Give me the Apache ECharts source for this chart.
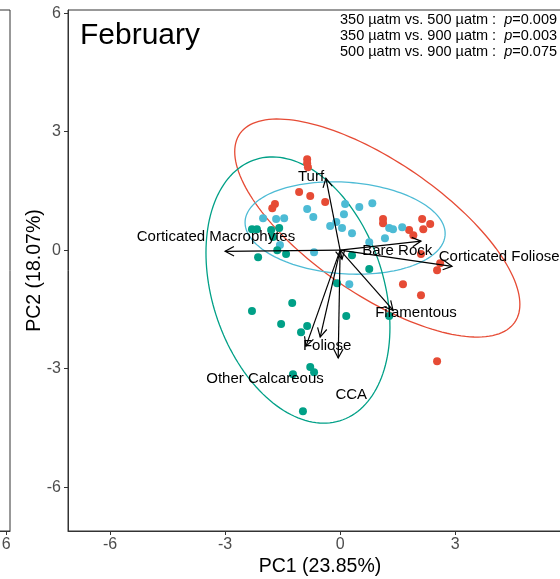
<!DOCTYPE html>
<html><head><meta charset="utf-8">
<script src="https://cdn.jsdelivr.net/npm/echarts@6/dist/echarts.min.js"></script>
<style>html,body{margin:0;padding:0;background:#fff}#c{width:560px;height:579px}</style>
</head><body><div id="c"></div>
<script>
// ---- data ----
const groups = ['350 µatm', '500 µatm', '900 µatm'];
const groupColors = ['#E64B35', '#4DBBD5', '#00A087'];

const pc1_350 = [-0.86,-0.86,-0.84,-1.07,-0.78,-0.39,-1.70,-1.77,1.12,1.12,1.80,1.91,2.14,2.35,2.17,2.11,2.61,2.53,1.64,2.11,2.53];
const pc2_350 = [2.30,2.20,2.10,1.47,1.37,1.22,1.17,1.06,0.79,0.68,0.51,0.38,0.79,0.66,0.53,-0.10,-0.33,-0.51,-0.86,-1.14,-2.81];

const pc1_500 = [-2.01,-1.67,-1.46,-0.86,-0.70,0.13,0.50,0.84,0.10,-0.10,-0.26,0.05,0.31,0.76,1.17,1.28,1.38,1.62,-1.57,-0.68,0.24];
const pc2_500 = [0.81,0.79,0.81,1.04,0.84,1.17,1.09,1.19,0.91,0.71,0.61,0.56,0.43,0.20,0.30,0.56,0.53,0.58,0.13,-0.05,-0.86];

const pc1_900 = [-2.30,-2.17,-1.80,-1.59,-1.75,-2.14,-1.64,-1.41,0.31,0.76,-0.08,-1.25,-2.30,0.16,-1.54,-0.86,-1.02,1.28,-0.78,-0.68,-1.23,-0.97];
const pc2_900 = [0.53,0.53,0.51,0.56,0.33,-0.18,0.00,-0.10,-0.13,-0.48,-0.84,-1.34,-1.54,-1.67,-1.87,-1.92,-2.08,-1.67,-2.96,-3.09,-3.14,-4.08];

// confidence ellipses: centre, half-extent along PC1 / PC2, correlation
const ellipseCx = [0.97, 0.13, -1.10];
const ellipseCy = [0.56, 0.56, -1.01];
const ellipseWx = [3.72, 2.61, 2.40];
const ellipseWy = [2.76, 1.17, 3.37];
const ellipseR  = [-0.70, -0.12, -0.28];

// loadings (arrow tips) and their label positions
const loadingNames = ['Turf','Corticated Macrophytes','Bare Rock','Corticated Foliose','Filamentous','Foliose','Other Calcareous','CCA',''];
const loadingPC1 = [-0.37,-3.00,2.11,2.92,1.38,-0.52,-0.89,-0.05,0.05];
const loadingPC2 = [1.82,-0.03,0.23,-0.41,-1.52,-2.20,-2.43,-2.73,-0.23];
const labelPC1 = [-0.76,-3.24,1.49,4.15,1.98,-0.34,-1.96,0.29,null];
const labelPC2 = [1.85,0.33,-0.03,-0.18,-1.60,-2.43,-3.27,-3.67,null];

const xTicks = [-6, -3, 0, 3, 6];
const yTicks = [-6, -3, 0, 3, 6];
const panelTitle = 'February';
const pLines = [['350 µatm vs. 500 µatm', '0.009'], ['350 µatm vs. 900 µatm', '0.003'], ['500 µatm vs. 900 µatm', '0.075']];

// ---- chart ----
const FONT = '"Liberation Sans", Arial, Helvetica, sans-serif';
const chart = echarts.init(document.getElementById('c'), null, {renderer: 'canvas'});

const pcX = [pc1_350, pc1_500, pc1_900];
const pcY = [pc2_350, pc2_500, pc2_900];

const series = [];
groups.forEach((g, i) => {
  series.push({
    type: 'custom', name: g + ' ellipse', xAxisIndex: 0, yAxisIndex: 0, silent: true, z: 1,
    data: [[ellipseCx[i], ellipseCy[i]]], encode: {x: 0, y: 1},
    renderItem: (params, api) => {
      const pts = [];
      const s = Math.sqrt(1 - ellipseR[i] * ellipseR[i]);
      for (let k = 0; k <= 160; k++) {
        const t = 2 * Math.PI * k / 160;
        const x = ellipseCx[i] + ellipseWx[i] * Math.cos(t);
        const y = ellipseCy[i] + ellipseWy[i] * (ellipseR[i] * Math.cos(t) + s * Math.sin(t));
        pts.push(api.coord([x, y]));
      }
      return {type: 'polyline', shape: {points: pts}, style: {stroke: groupColors[i], fill: null, lineWidth: 1.3}};
    }
  });
});
groups.forEach((g, i) => {
  series.push({
    type: 'scatter', name: g, xAxisIndex: 0, yAxisIndex: 0, z: 2, silent: true,
    symbol: 'circle', symbolSize: 8,
    itemStyle: {color: groupColors[i], opacity: 1},
    data: pcX[i].map((v, j) => [v, pcY[i][j]])
  });
});
series.push({
  type: 'custom', name: 'loadings', xAxisIndex: 0, yAxisIndex: 0, silent: true, z: 3,
  data: loadingPC1.map((v, j) => [v, loadingPC2[j]]), encode: {x: 0, y: 1},
  renderItem: (params, api) => {
    const o = api.coord([0, 0]);
    const p = api.coord([api.value(0), api.value(1)]);
    const ang = Math.atan2(p[1] - o[1], p[0] - o[0]);
    const L = 10, A = 28 * Math.PI / 180;
    const h1 = [p[0] - L * Math.cos(ang - A), p[1] - L * Math.sin(ang - A)];
    const h2 = [p[0] - L * Math.cos(ang + A), p[1] - L * Math.sin(ang + A)];
    const st = {stroke: '#000', fill: null, lineWidth: 1.2};
    return {type: 'group', children: [
      {type: 'line', shape: {x1: o[0], y1: o[1], x2: p[0], y2: p[1]}, style: st},
      {type: 'polyline', shape: {points: [h1, p, h2]}, style: st}
    ]};
  }
});
series.push({
  type: 'custom', name: 'loading labels', xAxisIndex: 0, yAxisIndex: 0, silent: true, z: 4,
  data: loadingNames.map((n, j) => [labelPC1[j], labelPC2[j], j]).filter(d => d[0] !== null),
  encode: {x: 0, y: 1},
  renderItem: (params, api) => {
    const p = api.coord([api.value(0), api.value(1)]);
    return {type: 'text', x: p[0], y: p[1], style: {
      text: loadingNames[api.value(2)], fill: '#000', font: '15px ' + FONT,
      align: 'center', verticalAlign: 'middle'}};
  }
});
// empty series to host the left (cut-off) panel
series.push({type: 'scatter', xAxisIndex: 1, yAxisIndex: 1, data: [], silent: true});

const axisCommon = {
  type: 'value', splitLine: {show: false}, nameMoveOverlap: false,
  axisLine: {show: true, onZero: false, lineStyle: {color: '#333', width: 1}},
  nameTextStyle: {fontSize: 19.5, color: '#000', fontFamily: FONT}
};

let pText = pLines.map(l => '{n|' + l[0] + ' :  }{i|p}{n|=' + l[1] + '}').join('\n');

chart.setOption({
  animation: false,
  textStyle: {fontFamily: FONT},
  title: [
    {text: panelTitle, left: 80, top: 21, padding: 0, textStyle: {fontSize: 30, fontWeight: 'normal', color: '#000', fontFamily: FONT}},
    {text: pText, left: 340, top: 12, padding: 0, textStyle: {fontWeight: 'normal', rich: {
      n: {fontSize: 14.5, lineHeight: 16, color: '#000', fontWeight: 'normal', fontFamily: FONT},
      i: {fontSize: 14.5, lineHeight: 16, color: '#000', fontWeight: 'normal', fontStyle: 'italic', fontFamily: FONT}
    }}}
  ],
  grid: [
    {left: 68, top: 10, width: 504, height: 521, show: true, borderColor: '#333', borderWidth: 1,
     backgroundColor: 'transparent', containLabel: false, outerBoundsMode: 'none'},
    {left: -494, top: 10, width: 504, height: 521, show: true, borderColor: '#333', borderWidth: 1,
     backgroundColor: 'transparent', containLabel: false, outerBoundsMode: 'none'}
  ],
  xAxis: [
    Object.assign({}, axisCommon, {gridIndex: 0, min: -7.1, max: 6.05,
      axisTick: {show: true, length: 4, customValues: xTicks, lineStyle: {color: '#333'}},
      axisLabel: {customValues: xTicks, color: '#4D4D4D', fontSize: 16, margin: 6},
      name: 'PC1 (23.85%)', nameLocation: 'middle', nameGap: 26}),
    Object.assign({}, axisCommon, {gridIndex: 1, min: -7.1, max: 6.1,
      axisTick: {show: true, length: 4, customValues: xTicks, lineStyle: {color: '#333'}},
      axisLabel: {customValues: xTicks, color: '#4D4D4D', fontSize: 16, margin: 6}})
  ],
  yAxis: [
    Object.assign({}, axisCommon, {gridIndex: 0, min: -7.11, max: 6.08,
      axisTick: {show: true, length: 4, customValues: yTicks, lineStyle: {color: '#333'}},
      axisLabel: {customValues: yTicks, color: '#4D4D4D', fontSize: 16, margin: 7},
      name: 'PC2 (18.07%)', nameLocation: 'middle', nameGap: 23}),
    Object.assign({}, axisCommon, {gridIndex: 1, min: -7.11, max: 6.08,
      axisTick: {show: false}, axisLabel: {show: false}})
  ],
  series: series
});
</script></body></html>
